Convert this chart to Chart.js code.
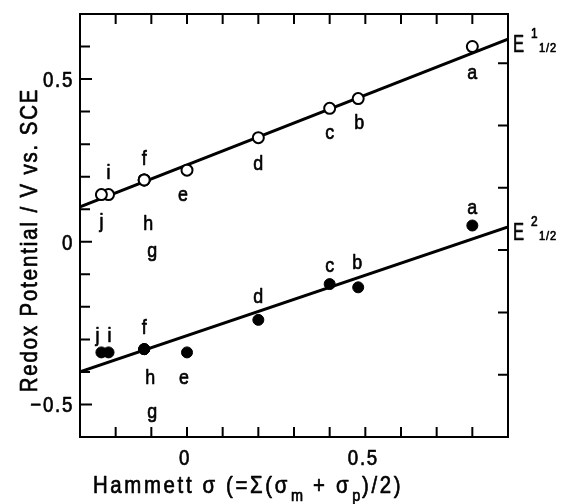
<!DOCTYPE html>
<html><head><meta charset="utf-8">
<script src="https://cdn.jsdelivr.net/npm/chart.js@4.4.1/dist/chart.umd.min.js"></script>
<style>html,body{margin:0;padding:0;background:#fff}#wrap{width:561px;height:504px}</style>
</head><body><div id="wrap"><canvas id="c" width="561" height="504"></canvas></div>
<script>
// ---- data ----
const compounds = ['a','b','c','d','e','f','g','h','i','j'];
const sigma = [0.80, 0.48, 0.40, 0.20, 0.00, -0.12, -0.12, -0.12, -0.22, -0.24];
const E1 = [0.60, 0.44, 0.41, 0.32, 0.22, 0.19, 0.19, 0.19, 0.145, 0.145];
const E2 = [0.05, -0.14, -0.13, -0.24, -0.34, -0.33, -0.33, -0.33, -0.34, -0.34];
const fitX = [-0.3, 0.9];
const fitE1 = [0.107, 0.623];
const fitE2 = [-0.40, 0.046];
const xRange = [-0.3, 0.9];
const yRange = [-0.6, 0.7];
const xTickLabels = [0, 0.5];
const yTickLabels = [-0.5, 0, 0.5];
const minorStep = 0.1;
const rightRange = [0, 6.79];
const rightTicks = [1, 2, 3, 4, 5, 6];

// ---- styles (pixel offsets of letters from their points) ----
const offE1 = [[0,32],[1,30],[0,31],[0,32],[-4,31],[0,-15],[8,77],[4,50],[0,-16],[0,33]];
const offE2 = [[0,-12],[-1,-18],[0,-12],[0,-17],[-3,32],[0,-15],[8,69],[6,35],[1,-10],[-4,-10]];
const FONT = '"Liberation Sans", Arial, sans-serif';
const TICK_COLOR = '#000';

function pts(xs, ys){ return xs.map((x,i)=>({x:x, y:ys[i]})); }

function txt(ctx, s, x, y, size, sx, sp, align, rot){
  ctx.save();
  ctx.font = size + 'px ' + FONT;
  ctx.letterSpacing = sp + 'px';
  ctx.textAlign = align || 'left';
  ctx.textBaseline = 'alphabetic';
  ctx.fillStyle = '#000';
  ctx.strokeStyle = '#000';
  ctx.lineWidth = 0.7;
  ctx.lineJoin = 'round';
  ctx.translate(x, y);
  if (rot) ctx.rotate(rot);
  ctx.scale(sx, 1);
  ctx.fillText(s, 0, 0);
  ctx.strokeText(s, 0, 0);
  const w = ctx.measureText(s).width * sx;
  ctx.restore();
  return w;
}

const decor = {
  id: 'decor',
  afterDraw(chart){
    const ctx = chart.ctx, a = chart.chartArea;
    const sx = chart.scales.x, sy = chart.scales.y, sr = chart.scales.y2;
    const TL = 10;
    const nx0 = Math.round(xRange[0]/minorStep), nx1 = Math.round(xRange[1]/minorStep);
    const ny0 = Math.round(yRange[0]/minorStep), ny1 = Math.round(yRange[1]/minorStep);
    ctx.save();
    ctx.strokeStyle = TICK_COLOR;
    ctx.lineWidth = 2;
    ctx.beginPath();
    for (let v = nx0; v <= nx1; v++){
      const px = sx.getPixelForValue(v*minorStep);
      ctx.moveTo(px, a.bottom); ctx.lineTo(px, a.bottom - TL);
      ctx.moveTo(px, a.top); ctx.lineTo(px, a.top + TL);
    }
    for (let v = ny0; v <= ny1; v++){
      const py = sy.getPixelForValue(v*minorStep);
      ctx.moveTo(a.left, py); ctx.lineTo(a.left + (v % 5 === 0 ? TL + 2 : TL), py);
    }
    for (let k = 0; k < rightTicks.length; k++){
      const py = sr.getPixelForValue(rightTicks[k]);
      ctx.moveTo(a.right, py); ctx.lineTo(a.right - TL, py);
    }
    ctx.stroke();
    ctx.strokeStyle = '#000';
    ctx.strokeRect(a.left, a.top, a.right - a.left, a.bottom - a.top);
    ctx.restore();

    const fmt = v => v === 0 ? '0' : (v < 0 ? '\u2212' + Math.abs(v) : String(v));
    xTickLabels.forEach(v => txt(ctx, fmt(v), sx.getPixelForValue(v) - 2, a.bottom + 28, 22, 0.85, 2, 'center'));
    yTickLabels.forEach(v => txt(ctx, fmt(v), a.left - 6, sy.getPixelForValue(v) + 8, 22, 0.85, 2, 'right'));

    [[E1, offE1], [E2, offE2]].forEach(([ser, off]) => {
      compounds.forEach((c, i) => {
        const px = sx.getPixelForValue(sigma[i]) + off[i][0];
        const py = sy.getPixelForValue(ser[i]) + off[i][1];
        txt(ctx, c, px, py, 21, 0.85, 0, 'center');
      });
    });

    let x = 93; const by = a.bottom + 56;
    x += txt(ctx, 'Hammett \u03c3 (=\u03a3(\u03c3', x, by, 24, 0.85, 3.1, 'left');
    x += txt(ctx, 'm', x + 1, by + 8, 17, 0.85, 1, 'left') + 2;
    x += txt(ctx, ' + \u03c3', x, by, 24, 0.85, 3.1, 'left');
    x += txt(ctx, 'p', x + 1, by + 8, 17, 0.85, 1, 'left') + 2;
    txt(ctx, ')/2)', x, by, 24, 0.85, 3.1, 'left');

    txt(ctx, 'Redox Potential / V vs. SCE', 37, 240, 24, 0.85, 2.2, 'center', -Math.PI/2);

    [[fitE1[1], '1'], [fitE2[1], '2']].forEach(([v, n]) => {
      const py = sy.getPixelForValue(v);
      const base = py + 13;
      txt(ctx, 'E', a.right + 5, base, 23, 0.72, 0, 'left');
      txt(ctx, n, a.right + 23, base - 14, 14, 0.85, 0, 'left');
      txt(ctx, '1/2', a.right + 31, base, 13, 0.85, 1, 'left');
    });
  }
};

new Chart(document.getElementById('c'), {
  type: 'scatter',
  data: {
    datasets: [
      { data: pts(fitX, fitE1), showLine: true, pointRadius: 0, borderColor: '#000', borderWidth: 3, order: 3 },
      { data: pts(fitX, fitE2), showLine: true, pointRadius: 0, borderColor: '#000', borderWidth: 3, order: 3 },
      { data: pts(sigma, E1), pointRadius: 5.5, borderWidth: 2, borderColor: '#000', backgroundColor: '#fff', order: 1 },
      { data: pts(sigma, E2), pointRadius: 5.5, borderWidth: 1, borderColor: '#000', backgroundColor: '#000', order: 1 }
    ]
  },
  options: {
    responsive: false,
    animation: false,
    events: [],
    layout: { padding: { left: 80, right: 53, top: 14, bottom: 67 } },
    plugins: { legend: { display: false }, tooltip: { enabled: false } },
    scales: {
      x: { type: 'linear', display: false, min: xRange[0], max: xRange[1] },
      y: { type: 'linear', display: false, min: yRange[0], max: yRange[1] },
      y2: { type: 'linear', display: false, position: 'right', min: rightRange[0], max: rightRange[1] }
    }
  },
  plugins: [decor]
});
</script></body></html>
